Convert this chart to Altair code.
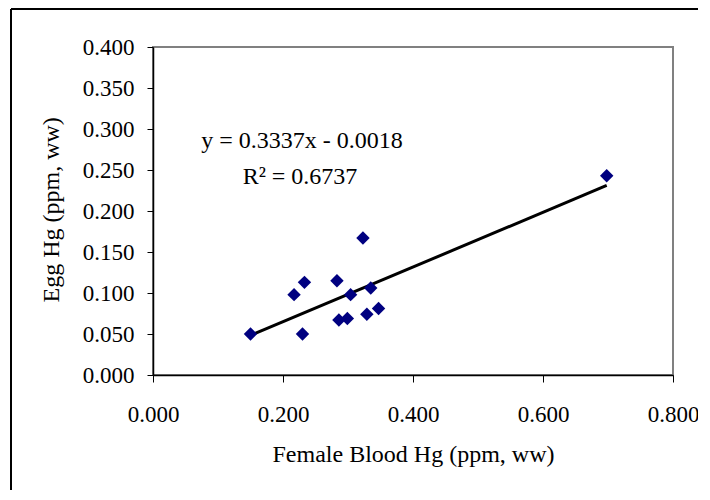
import altair as alt
import pandas as pd

# Data
blood_hg = [0.150, 0.217, 0.233, 0.230, 0.283, 0.286, 0.299, 0.304, 0.323, 0.335, 0.329, 0.347, 0.698]
egg_hg = [0.050, 0.098, 0.113, 0.050, 0.115, 0.067, 0.069, 0.098, 0.167, 0.106, 0.074, 0.081, 0.243]

# Trend line given on the chart
SLOPE = 0.3337
INTERCEPT = -0.0018
eq_text = "y = 0.3337x - 0.0018"
r2_text = "R² = 0.6737"

x_ticks = [0.0, 0.2, 0.4, 0.6, 0.8]
y_ticks = [0.0, 0.05, 0.10, 0.15, 0.20, 0.25, 0.30, 0.35, 0.40]

FONT = "Liberation Serif"

pts = pd.DataFrame({"x": blood_hg, "y": egg_hg})
line_df = pd.DataFrame({"x": [min(blood_hg), max(blood_hg)]})
one = pd.DataFrame({"a": [0]})

xscale = alt.Scale(domain=[0, 0.8], nice=False, zero=False)
yscale = alt.Scale(domain=[0, 0.4], nice=False, zero=False)

xaxis = alt.Axis(
    title="Female Blood Hg (ppm, ww)", values=x_ticks, format=".3f",
    tickSize=7, labelPadding=21, labelFlush=False, labelOverlap=False,
    titleX=260, titleY=86, titleBaseline="alphabetic", titleAlign="center",
)
yaxis = alt.Axis(
    title="Egg Hg (ppm, ww)", values=y_ticks, format=".3f",
    tickSize=6, labelPadding=13, labelFlush=False, labelOverlap=False,
    titleX=-95, titleY=255, titleBaseline="alphabetic", titleAlign="left", titleAngle=-90,
)

points = alt.Chart(pts).mark_point(
    shape="diamond", filled=True, color="#000080", size=180, opacity=1
).encode(
    x=alt.X("x:Q", scale=xscale, axis=xaxis),
    y=alt.Y("y:Q", scale=yscale, axis=yaxis),
)

trend = alt.Chart(line_df).transform_calculate(
    y=f"{SLOPE} * datum.x + ({INTERCEPT})"
).mark_line(color="black", strokeWidth=3).encode(
    x=alt.X("x:Q", scale=xscale),
    y=alt.Y("y:Q", scale=yscale),
)

eq = alt.Chart(one).mark_text(
    text=eq_text, font=FONT, fontSize=24, align="center", baseline="alphabetic", color="black"
).encode(x=alt.value(149), y=alt.value(101))

r2 = alt.Chart(one).mark_text(
    text=r2_text, font=FONT, fontSize=24, align="center", baseline="alphabetic", color="black"
).encode(x=alt.value(147), y=alt.value(137))

frame_left = alt.Chart(one).mark_rule(color="black", strokeWidth=2).encode(
    x=alt.value(-142), y=alt.value(-38), y2=alt.value(460)
)
frame_top = alt.Chart(one).mark_rule(color="black", strokeWidth=2).encode(
    x=alt.value(-142), x2=alt.value(545), y=alt.value(-38)
)

chart = alt.layer(frame_left, frame_top, trend, points, eq, r2).properties(
    width=520, height=328,
    padding={"left": 145, "top": 39, "right": 25, "bottom": 115},
    autosize=alt.AutoSizeParams(type="none"),
    background="white",
).configure_view(
    stroke="#808080", strokeWidth=2
).configure_axis(
    grid=False, domainColor="black", domainWidth=1.5, tickColor="black", tickWidth=1,
    labelFont=FONT, labelFontSize=23, labelColor="black",
    titleFont=FONT, titleFontSize=24, titleFontWeight="normal", titleColor="black",
)

chart.save("out.html", embed_options={"renderer": "svg", "actions": False})
